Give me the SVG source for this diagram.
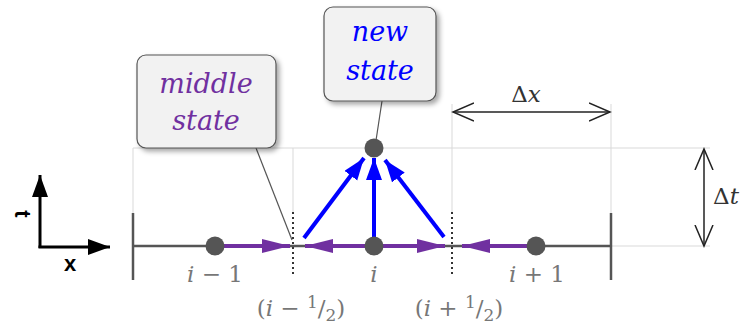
<svg xmlns="http://www.w3.org/2000/svg" width="740" height="329" viewBox="0 0 740 329">
<style>
.grid{stroke:#d9d9d9;stroke-width:1;fill:none}
.axis{stroke:#555;stroke-width:2.5;fill:none}
.dot{fill:#555}
.purple{stroke:#7030A0;stroke-width:4;fill:none}
.blue{stroke:#0000FF;stroke-width:4;fill:none}
.black{stroke:#000;stroke-width:3;fill:none}
.dim{stroke:#222;stroke-width:1.5;fill:none}
.dotted{stroke:#333;stroke-width:2;stroke-dasharray:2 3;fill:none}
.leader{stroke:#555;stroke-width:1.2;fill:none}
.box{fill:#f2f2f2;stroke:#555;stroke-width:1.2}
.math{font-family:"DejaVu Serif","Liberation Serif",serif;font-size:23px;fill:#777}
.it{font-style:italic}
.call{font-family:"DejaVu Serif","Liberation Serif",serif;font-style:italic;font-size:27px;text-anchor:middle}
.lbl{font-family:"Liberation Sans",Arial,sans-serif;font-weight:bold;font-size:22px;fill:#000}
.dl{font-family:"DejaVu Serif","Liberation Serif",serif;font-size:23px;fill:#333}
</style>
<defs>
<marker id="ap" markerUnits="userSpaceOnUse" markerWidth="30" markerHeight="16" refX="28" refY="7" orient="auto"><path d="M0,0 L28,7 L0,14 Z" fill="#7030A0"/></marker>
<marker id="ab" markerUnits="userSpaceOnUse" markerWidth="24" markerHeight="18" refX="22" refY="8" orient="auto"><path d="M0,0 L22,8 L0,16 Z" fill="#0000FF"/></marker>
<marker id="ak" markerUnits="userSpaceOnUse" markerWidth="24" markerHeight="18" refX="22" refY="8" orient="auto"><path d="M0,0 L22,8 L0,16 Z" fill="#000"/></marker>
<marker id="ac" markerUnits="userSpaceOnUse" markerWidth="24" markerHeight="22" refX="21" refY="10" orient="auto"><path d="M0,1 L21,10 L0,19" fill="none" stroke="#222" stroke-width="1.5"/></marker>
<marker id="acs" markerUnits="userSpaceOnUse" markerWidth="24" markerHeight="22" refX="21" refY="10" orient="auto-start-reverse"><path d="M0,1 L21,10 L0,19" fill="none" stroke="#222" stroke-width="1.5"/></marker>
<filter id="sh" x="-20%" y="-20%" width="150%" height="150%"><feDropShadow dx="3" dy="3" stdDeviation="2.5" flood-color="#000" flood-opacity="0.35"/></filter>
</defs>

<g id="grid">
<line class="grid" x1="133" y1="148" x2="710" y2="148"/>
<line class="grid" x1="611" y1="246" x2="710" y2="246"/>
<line class="grid" x1="133" y1="148" x2="133" y2="213"/>
<line class="grid" x1="293" y1="148" x2="293" y2="212"/>
<line class="grid" x1="452" y1="104" x2="452" y2="212"/>
<line class="grid" x1="611" y1="104" x2="611" y2="213"/>
</g>

<g id="domain">
<line class="axis" x1="133" y1="246" x2="611" y2="246"/>
<line class="axis" x1="133" y1="213" x2="133" y2="280"/>
<line class="axis" x1="611" y1="213" x2="611" y2="280"/>
<line class="dotted" x1="293" y1="212" x2="293" y2="277"/>
<line class="dotted" x1="452" y1="212" x2="452" y2="277"/>
</g>

<g id="connectors">
<line class="leader" x1="256" y1="148" x2="292" y2="240"/>
<line class="leader" x1="382" y1="101" x2="375" y2="147"/>
<line class="purple" x1="224" y1="246" x2="290" y2="246" marker-end="url(#ap)"/>
<line class="purple" x1="365" y1="246" x2="305" y2="246" marker-end="url(#ap)"/>
<line class="purple" x1="383" y1="246" x2="445" y2="246" marker-end="url(#ap)"/>
<line class="purple" x1="527" y1="246" x2="462" y2="246" marker-end="url(#ap)"/>
<line class="blue" x1="304" y1="238" x2="364" y2="158" marker-end="url(#ab)"/>
<line class="blue" x1="374" y1="246" x2="374" y2="158" marker-end="url(#ab)"/>
<line class="blue" x1="444" y1="237" x2="385" y2="160" marker-end="url(#ab)"/>
<line class="dim" x1="453" y1="112" x2="610" y2="112" marker-start="url(#acs)" marker-end="url(#ac)"/>
<line class="dim" x1="704" y1="149" x2="704" y2="246" marker-start="url(#acs)" marker-end="url(#ac)"/>
</g>

<g id="node-im1"><circle class="dot" cx="215" cy="246" r="9.5"/></g>
<g id="node-i"><circle class="dot" cx="374" cy="246" r="9.5"/></g>
<g id="node-ip1"><circle class="dot" cx="536" cy="246" r="9.5"/></g>
<g id="node-new"><circle class="dot" cx="374" cy="148" r="9.5"/></g>

<g id="axes">
<line class="black" x1="40" y1="248" x2="40" y2="175" marker-end="url(#ak)"/>
<line class="black" x1="38.5" y1="247" x2="110" y2="247" marker-end="url(#ak)"/>
<text class="lbl" x="0" y="0" text-anchor="middle" transform="translate(15,214) rotate(90)">t</text>
<text class="lbl" x="70" y="271" text-anchor="middle">x</text>
</g>

<g id="labels">
<text class="math" x="215" y="282" text-anchor="middle"><tspan class="it">i</tspan> − 1</text>
<text class="math" x="374" y="282" text-anchor="middle"><tspan class="it">i</tspan></text>
<text class="math" x="537" y="282" text-anchor="middle"><tspan class="it">i</tspan> + 1</text>
<text class="math" x="301" y="316" text-anchor="middle">(<tspan class="it">i</tspan> − <tspan font-size="17" dy="-8">1</tspan><tspan dy="8">/</tspan><tspan font-size="17" dy="5">2</tspan><tspan dy="-5">)</tspan></text>
<text class="math" x="459" y="316" text-anchor="middle">(<tspan class="it">i</tspan> + <tspan font-size="17" dy="-8">1</tspan><tspan dy="8">/</tspan><tspan font-size="17" dy="5">2</tspan><tspan dy="-5">)</tspan></text>
<text class="dl" x="526" y="102" text-anchor="middle">Δ<tspan class="it">x</tspan></text>
<text class="dl" x="713" y="204" font-size="22">Δ<tspan class="it">t</tspan></text>
</g>

<g id="callout-middle">
<rect class="box" x="137" y="55" width="139" height="93" rx="9" filter="url(#sh)"/>
<text class="call" x="206" y="93" fill="#7030A0">middle</text>
<text class="call" x="206" y="130" fill="#7030A0">state</text>
</g>

<g id="callout-new">
<rect class="box" x="324" y="7" width="112" height="94" rx="9" filter="url(#sh)"/>
<text class="call" x="380" y="41" fill="#0000FF">new</text>
<text class="call" x="380" y="80" fill="#0000FF">state</text>
</g>
</svg>
